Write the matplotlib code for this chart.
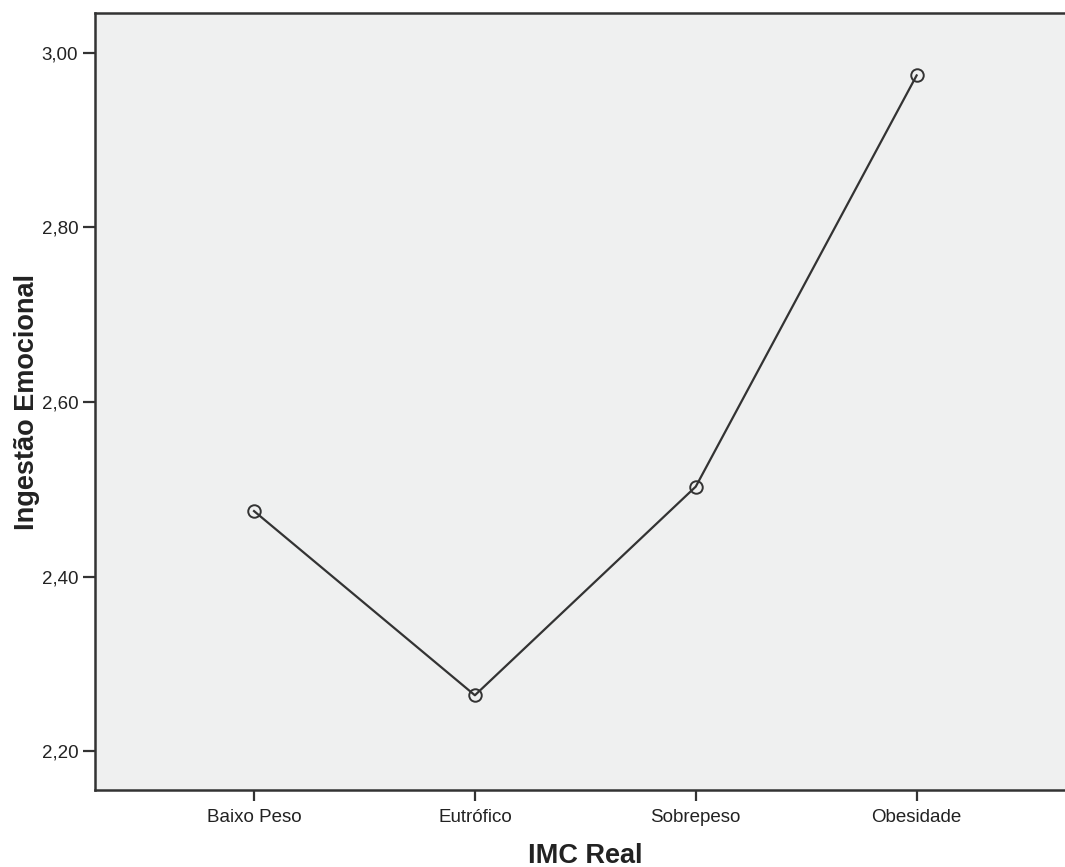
import numpy as np
import matplotlib.pyplot as plt

plt.rcParams['font.family'] = ['Liberation Sans', 'DejaVu Sans']

categorias = ["Baixo Peso", "Eutrófico", "Sobrepeso", "Obesidade"]
medias = [2.475, 2.264, 2.503, 2.974]
yticks = [2.20, 2.40, 2.60, 2.80, 3.00]
ytick_labels = ["2,20", "2,40", "2,60", "2,80", "3,00"]

fig = plt.figure(figsize=(10.65, 8.67), dpi=100)
ax = fig.add_axes([95/1065, 1 - 790/867, 1 - 95/1065 + 0.01, (790 - 13)/867])
ax.set_facecolor("#eff0f0")

x = np.arange(len(categorias))
ax.plot(x, medias, color="#333333", lw=1.6, marker="o", markersize=9,
        markerfacecolor="none", markeredgecolor="#333333", markeredgewidth=1.4)

ax.set_xlim(-0.72, 3.72)
ax.set_ylim(2.1555, 3.0455)
ax.set_xticks(x)
ax.set_xticklabels(categorias)
ax.set_yticks(yticks)
ax.set_yticklabels(ytick_labels)

ax.tick_params(axis="both", direction="out", colors="#333333", labelcolor="#222222",
               labelsize=13.5, width=1.6)
ax.tick_params(axis="y", length=9, pad=3)
ax.tick_params(axis="x", length=8, pad=6)

for s in ["left", "bottom", "top"]:
    ax.spines[s].set_color("#333333")
    ax.spines[s].set_linewidth(1.8)
ax.spines["right"].set_visible(False)

ax.set_xlabel("IMC Real", fontsize=19.5, fontweight="bold", color="#222222", labelpad=12)
ax.set_ylabel("Ingestão Emocional", fontsize=19.5, fontweight="bold", color="#222222", labelpad=1)

fig.savefig("out.png", dpi=100)
